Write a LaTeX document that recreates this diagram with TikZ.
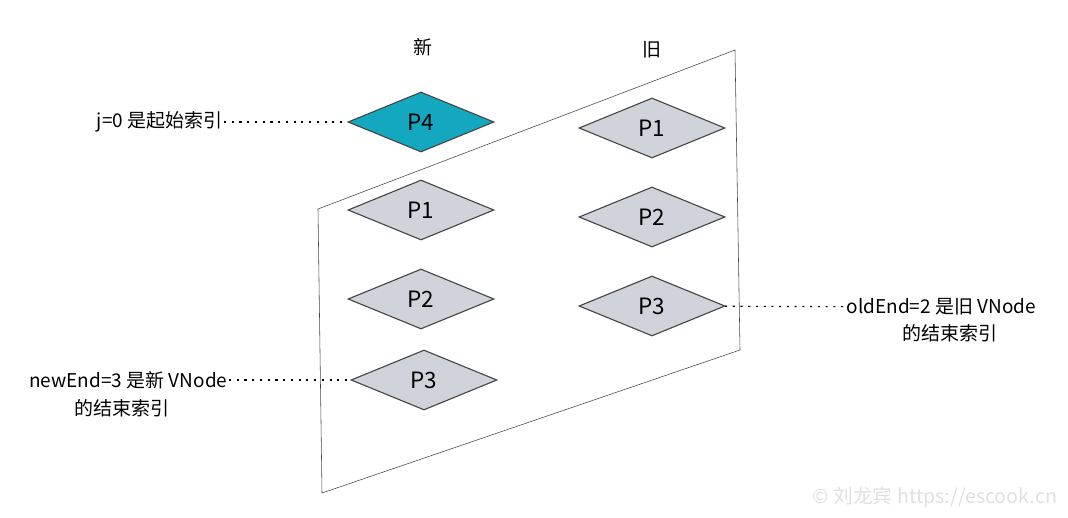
\documentclass[tikz,border=0pt]{standalone}
\usepackage{fontspec}
\setmainfont{Noto Sans CJK SC}
\usetikzlibrary{positioning,shapes.geometric}
\definecolor{tealfill}{RGB}{20,168,192}
\definecolor{grayfill}{RGB}{208,212,218}
\definecolor{edgegray}{RGB}{70,70,70}

\begin{document}
\begin{tikzpicture}[x=0.025cm,y=-0.025cm,font=\fontsize{13.5}{17}\selectfont,
  diam/.style={diamond,draw=edgegray,thick,fill=grayfill,minimum width=3.65cm,
    minimum height=1.5cm,inner sep=0pt,font=\fontsize{16}{19}\selectfont},
  lbl/.style={inner sep=1pt,align=center},
  dots/.style={draw=black,thick,dash pattern=on 1.5pt off 4pt}]
  \useasboundingbox (0,0) rectangle (1068,518);
  % frame
  \draw[edgegray] (318,209) -- (735,50) -- (740,350) -- (322,493) -- cycle;
  \node at (423,47) {新};
  \node at (652,50) {旧};
  % new list
  \node[diam,fill=tealfill] (n0) at (421,122) {P4};
  \node[diam] (n1) at (421,210) {P1};
  \node[diam] (n2) at (421,299) {P2};
  \node[diam] (n3) at (424,380) {P3};
  % old list
  \node[diam] (o1) at (652,128) {P1};
  \node[diam] (o2) at (652,217) {P2};
  \node[diam] (o3) at (652,306) {P3};
  % notes
  \node[lbl,anchor=east] (jstart) at (224,122) {j=0 是起始索引};
  \node[lbl,anchor=east] (newend) at (229,380) {newEnd=3 是新 VNode};
  \node[lbl] (newend2) at (122,408) {的结束索引};
  \node[lbl,anchor=west] (oldend) at (845,307) {oldEnd=2 是旧 VNode};
  \node[lbl] (oldend2) at (950,333) {的结束索引};
  \draw[dots] (jstart) -- (n0);
  \draw[dots] (newend) -- (n3);
  \draw[dots] (o3) -- (oldend);
  \node[text=black!12,font=\fontsize{14}{16}\selectfont,anchor=east] (mark) at (1062,497) {© 刘龙宾 https://escook.cn};
\end{tikzpicture}
\end{document}
